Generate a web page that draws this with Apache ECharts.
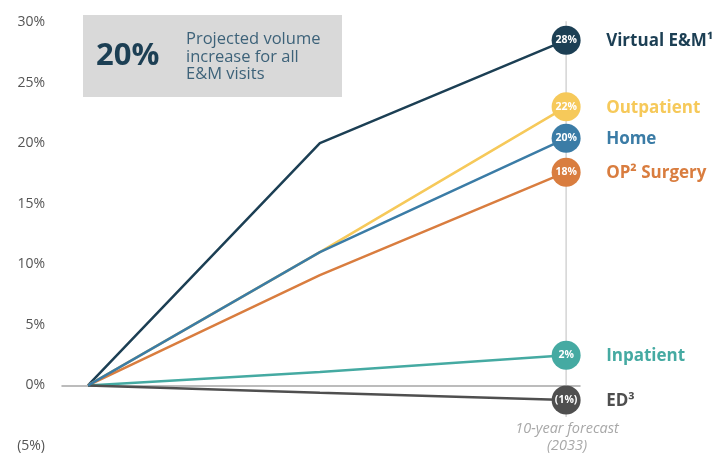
<!DOCTYPE html>
<html><head><meta charset="utf-8">
<script src="https://cdn.jsdelivr.net/npm/echarts@6/dist/echarts.min.js"></script>
<style>html,body{margin:0;padding:0;background:#fff}#c{width:716px;height:457px}</style>
</head><body><div id="c"></div>
<script>
// x positions (years from start): start, midpoint, 10-year forecast
const xPoints = [0, 4.85, 10];
const seriesNames = ['Virtual E&M\u00B9', 'Outpatient', 'OP\u00B2 Surgery', 'Home', 'Inpatient', 'ED\u00B3'];
const virtualEM = [0, 20, 28.5];
const outpatient = [0, 11, 23];
const opSurgery = [0, 9.1, 17.6];
const home = [0, 11, 20.4];
const inpatient = [0, 1.1, 2.5];
const ed = [0, -0.6, -1.2];
const endLabels = ['28%', '22%', '18%', '20%', '2%', '(1%)'];
const colors = ['#1c3f54', '#f6c95a', '#d97d3f', '#3b7ca6', '#45aaa2', '#4f4f4f'];
const yTicks = { min: -5, max: 30, step: 5 };
const forecastLineY = [30.3, -2.6];
const calloutValue = '20%';
const calloutText = ['Projected volume', 'increase for all', 'E&M visits'];
const forecastText = ['10-year forecast', '(2033)'];

const values = [virtualEM, outpatient, opSurgery, home, inpatient, ed];
const FONT = '"Open Sans"';

const chart = echarts.init(document.getElementById('c'));
const lineSeries = values.map((vals, i) => ({
  name: seriesNames[i],
  type: 'line',
  z: 3 + (i === 3 ? 1 : 0),
  data: vals.map((v, k) => [xPoints[k], v]),
  lineStyle: { color: colors[i], width: 2.5 },
  itemStyle: { color: colors[i] },
  showSymbol: true,
  symbol: 'circle',
  symbolSize: (v, p) => p.dataIndex === vals.length - 1 ? 29 : 0,
  label: {
    show: true,
    position: 'inside',
    formatter: p => p.dataIndex === vals.length - 1 ? endLabels[i] : '',
    color: '#fff', fontSize: 10.5, fontWeight: 'bold', fontFamily: FONT
  },
  endLabel: {
    show: true,
    formatter: () => seriesNames[i],
    color: colors[i], fontSize: 17, fontWeight: 'bold', fontFamily: FONT,
    distance: 40,
    offset: [0, 1]
  },
  emphasis: { disabled: true },
  animation: false
}));

lineSeries.unshift({
  type: 'line',
  z: 1,
  data: forecastLineY.map(y => [xPoints[2], y]),
  lineStyle: { color: '#d4d4d4', width: 1.5 },
  symbol: 'none',
  silent: true,
  animation: false
});

chart.setOption({
  animation: false,
  grid: { left: 62, right: 136, top: 22, bottom: 11 },
  xAxis: {
    type: 'value', min: -0.544, max: 10.29,
    axisLine: { show: true, onZero: true, lineStyle: { color: '#a6a6a6', width: 1.5 } },
    axisTick: { show: false }, axisLabel: { show: false }, splitLine: { show: false }
  },
  yAxis: {
    type: 'value', min: yTicks.min, max: yTicks.max, interval: yTicks.step,
    axisLine: { show: false }, axisTick: { show: false }, splitLine: { show: false },
    axisLabel: {
      margin: 17, color: '#555', fontSize: 14, fontFamily: FONT,
      formatter: v => v < 0 ? '(' + Math.abs(v) + '%)' : v + '%'
    }
  },
  graphic: [
    { type: 'rect', left: 83, top: 15, shape: { width: 259, height: 82 }, style: { fill: '#d9d9d9' }, z: 0 },
    { type: 'text', left: 96, top: 41, style: { text: calloutValue, fill: '#1c3f54', font: 'bold 31px ' + FONT }, z: 1 },
    { type: 'text', left: 186, top: 31, style: { text: calloutText.join('\n'), fill: '#3d6279', font: '16.5px ' + FONT, lineHeight: 17.5 }, z: 1 },
    { type: 'text', x: 567, y: 420, style: { text: forecastText.join('\n'), fill: '#a8a8a8', font: 'italic 14.5px ' + FONT, lineHeight: 17, align: 'center' }, z: 1 }
  ],
  series: lineSeries
});
</script></body></html>
